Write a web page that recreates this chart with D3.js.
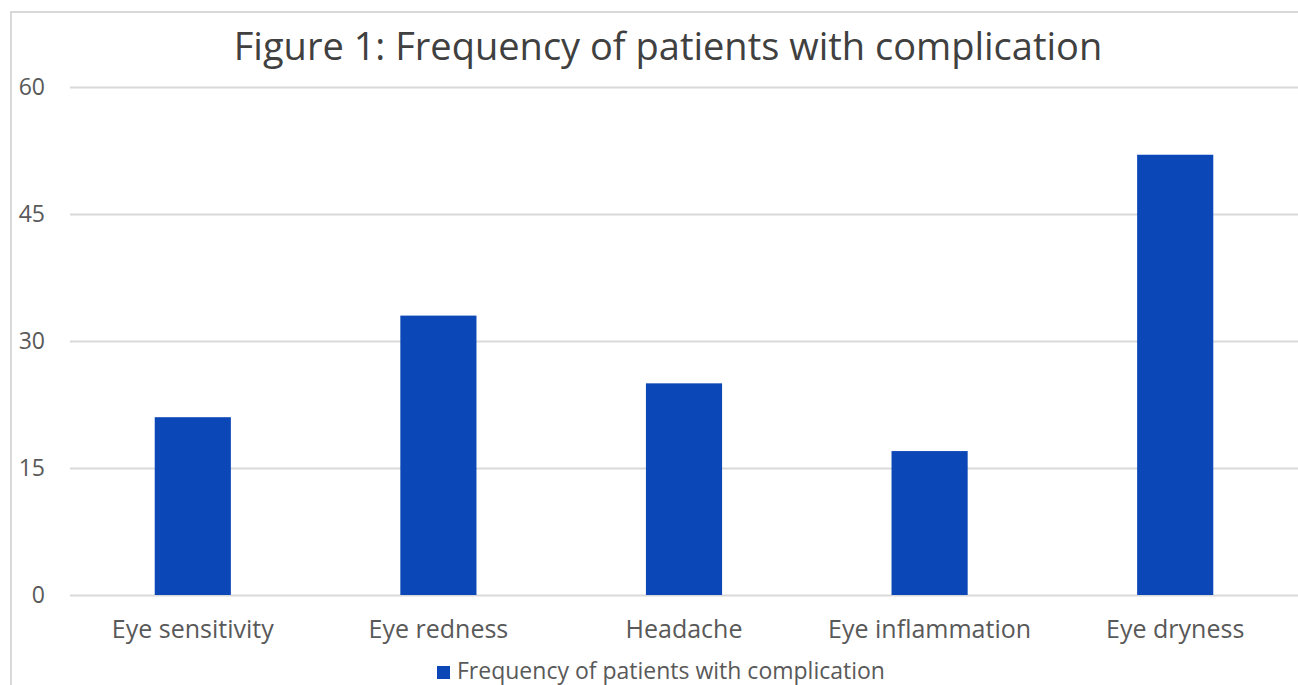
<!DOCTYPE html>
<html lang="en">
<head>
<meta charset="UTF-8">
<title>Frequency of patients with complication</title>
<script src="https://d3js.org/d3.v7.min.js"></script>
<style>
  body { margin: 0; background: #fff; }
  text { font-family: "Open Sans", "Noto Sans", sans-serif; }
</style>
</head>
<body>
<div id="chart"></div>
<script>
var categories = ["Eye sensitivity", "Eye redness", "Headache", "Eye inflammation", "Eye dryness"];
var frequencies = [21, 33, 25, 17, 52];
var yTicks = [0, 15, 30, 45, 60];
var seriesName = "Frequency of patients with complication";
var titleText = "Figure 1: Frequency of patients with complication";

var W = 1298, H = 685;
var margin = {top: 87, right: 0, bottom: 90, left: 70};
var width = W - margin.left - margin.right,
    height = H - margin.top - margin.bottom;

var svg = d3.select("#chart").append("svg")
  .attr("width", W).attr("height", H);

// chart border
svg.append("rect")
  .attr("x", 11).attr("y", 12)
  .attr("width", W + 10).attr("height", H + 10)
  .attr("fill", "none").attr("stroke", "#d9d9d9").attr("stroke-width", 2);

svg.append("text")
  .attr("x", 668).attr("y", 60)
  .attr("text-anchor", "middle")
  .attr("font-size", 38)
  .attr("fill", "#404040")
  .text(titleText);

var g = svg.append("g")
  .attr("transform", "translate(" + margin.left + "," + margin.top + ")");

var x = d3.scaleBand().domain(categories).range([0, width]).paddingInner(0.69).paddingOuter(0.345);
var y = d3.scaleLinear().domain([0, 60]).range([height, 0]);

// gridlines
g.append("g")
  .call(d3.axisLeft(y).tickValues(yTicks).tickSize(-width).tickFormat(""))
  .call(function(s) {
    s.select(".domain").remove();
    s.selectAll("line").attr("stroke", "#d9d9d9").attr("stroke-width", 2);
  });

// y labels
g.append("g")
  .call(d3.axisLeft(y).tickValues(yTicks).tickSize(0).tickPadding(25))
  .call(function(s) {
    s.select(".domain").remove();
    s.selectAll("text").attr("font-size", 23).attr("fill", "#595959")
      .style("font-family", "'Open Sans', sans-serif");
  });

g.selectAll("rect.bar")
  .data(frequencies)
  .enter().append("rect")
  .attr("class", "bar")
  .attr("x", function(d, i) { return x(categories[i]); })
  .attr("y", function(d) { return y(d); })
  .attr("width", x.bandwidth())
  .attr("height", function(d) { return height - y(d); })
  .attr("fill", "#0c47b7");

// x labels
g.append("g")
  .attr("transform", "translate(0," + height + ")")
  .call(d3.axisBottom(x).tickSize(0).tickPadding(25))
  .call(function(s) {
    s.select(".domain").remove();
    s.selectAll("text").attr("font-size", 25).attr("fill", "#595959")
      .style("font-family", "'Open Sans', sans-serif");
  });

// legend
var leg = svg.append("g").attr("transform", "translate(437,666)");
leg.append("rect").attr("width", 13).attr("height", 13).attr("fill", "#0c47b7");
leg.append("text").attr("x", 20).attr("y", 13)
  .attr("font-size", 23).attr("fill", "#595959")
  .text(seriesName);
</script>
</body>
</html>
